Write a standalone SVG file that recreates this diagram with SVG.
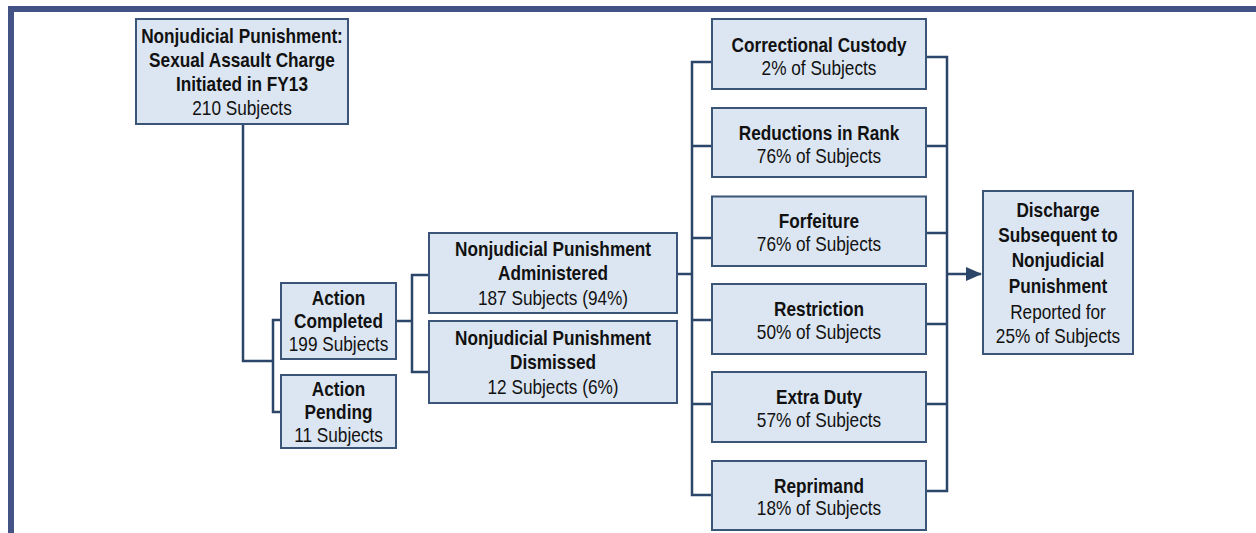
<svg xmlns="http://www.w3.org/2000/svg" width="1256" height="533" viewBox="0 0 1256 533">
<style>
.box{fill:#dce6f2;stroke:#3a5577;stroke-width:2}
.t{font-family:"Liberation Sans",Arial,sans-serif;font-size:21px;fill:#111;text-anchor:middle}
.b{font-weight:bold}
.c{fill:none;stroke:#2b4669;stroke-width:2.5}
</style>
<defs>
<marker id="ah2" markerWidth="16" markerHeight="14" refX="15" refY="7" orient="auto" markerUnits="userSpaceOnUse" viewBox="0 0 16 14">
<path d="M0,0 L16,7 L0,14 Z" fill="#2b4669"/>
</marker>
</defs>
<rect width="1256" height="533" fill="#fff"/>
<path d="M11,533 V9 H1256" fill="none" stroke="#435386" stroke-width="6"/>
<g id="connectors">
<path class="c" d="M243,124 V361 H273"/>
<path class="c" d="M281,320 H273 V412 H281"/>
<path class="c" d="M396,321 H412"/>
<path class="c" d="M429,275 H412 V372 H429"/>
<path class="c" d="M677,274 H692"/>
<path class="c" d="M712,62 H692 V495 H712"/>
<path class="c" d="M692,146 H712 M692,238 H712 M692,320 H712 M692,404 H712"/>
<path class="c" d="M926,57 H947 V491 H926"/>
<path class="c" d="M926,146 H947 M926,233 H947 M926,324 H947 M926,404 H947"/>
<path class="c" d="M947,274 H981" marker-end="url(#ah2)"/>
</g>
<g id="n_top">
<rect class="box" x="136" y="19" width="212" height="105"/>
<text class="t b" transform="translate(242 43) scale(0.82 1)">Nonjudicial Punishment:</text>
<text class="t b" transform="translate(242 67) scale(0.82 1)">Sexual Assault Charge</text>
<text class="t b" transform="translate(242 91) scale(0.82 1)">Initiated in FY13</text>
<text class="t" transform="translate(242 115) scale(0.82 1)">210 Subjects</text>
</g>
<g id="n_completed">
<rect class="box" x="281" y="283" width="115" height="76"/>
<text class="t b" transform="translate(338.5 305) scale(0.82 1)">Action</text>
<text class="t b" transform="translate(338.5 328) scale(0.82 1)">Completed</text>
<text class="t" transform="translate(338.5 351) scale(0.82 1)">199 Subjects</text>
</g>
<g id="n_pending">
<rect class="box" x="281" y="375" width="115" height="73"/>
<text class="t b" transform="translate(338.5 396) scale(0.82 1)">Action</text>
<text class="t b" transform="translate(338.5 419) scale(0.82 1)">Pending</text>
<text class="t" transform="translate(338.5 442) scale(0.82 1)">11 Subjects</text>
</g>
<g id="n_admin">
<rect class="box" x="429" y="233" width="248" height="80"/>
<text class="t b" transform="translate(553 256) scale(0.82 1)">Nonjudicial Punishment</text>
<text class="t b" transform="translate(553 280) scale(0.82 1)">Administered</text>
<text class="t" transform="translate(553 305) scale(0.82 1)">187 Subjects (94%)</text>
</g>
<g id="n_dismissed">
<rect class="box" x="429" y="321" width="248" height="82"/>
<text class="t b" transform="translate(553 345) scale(0.82 1)">Nonjudicial Punishment</text>
<text class="t b" transform="translate(553 369) scale(0.82 1)">Dismissed</text>
<text class="t" transform="translate(553 394) scale(0.82 1)">12 Subjects (6%)</text>
</g>
<g id="n_custody">
<rect class="box" x="712" y="19" width="214" height="70"/>
<text class="t b" transform="translate(819 52) scale(0.82 1)">Correctional Custody</text>
<text class="t" transform="translate(819 75) scale(0.82 1)">2% of Subjects</text>
</g>
<g id="n_rank">
<rect class="box" x="712" y="108" width="214" height="69"/>
<text class="t b" transform="translate(819 140) scale(0.82 1)">Reductions in Rank</text>
<text class="t" transform="translate(819 163) scale(0.82 1)">76% of Subjects</text>
</g>
<g id="n_forfeiture">
<rect class="box" x="712" y="196.5" width="214" height="69.5"/>
<text class="t b" transform="translate(819 228) scale(0.82 1)">Forfeiture</text>
<text class="t" transform="translate(819 251) scale(0.82 1)">76% of Subjects</text>
</g>
<g id="n_restriction">
<rect class="box" x="712" y="284" width="214" height="70"/>
<text class="t b" transform="translate(819 316) scale(0.82 1)">Restriction</text>
<text class="t" transform="translate(819 339) scale(0.82 1)">50% of Subjects</text>
</g>
<g id="n_extra">
<rect class="box" x="712" y="372" width="214" height="70"/>
<text class="t b" transform="translate(819 404) scale(0.82 1)">Extra Duty</text>
<text class="t" transform="translate(819 427) scale(0.82 1)">57% of Subjects</text>
</g>
<g id="n_reprimand">
<rect class="box" x="712" y="461" width="214" height="69"/>
<text class="t b" transform="translate(819 493) scale(0.82 1)">Reprimand</text>
<text class="t" transform="translate(819 515) scale(0.82 1)">18% of Subjects</text>
</g>
<g id="n_discharge">
<rect class="box" x="983" y="191" width="150" height="163"/>
<text class="t b" transform="translate(1058 217) scale(0.82 1)">Discharge</text>
<text class="t b" transform="translate(1058 242) scale(0.82 1)">Subsequent to</text>
<text class="t b" transform="translate(1058 267) scale(0.82 1)">Nonjudicial</text>
<text class="t b" transform="translate(1058 293) scale(0.82 1)">Punishment</text>
<text class="t" transform="translate(1058 319) scale(0.82 1)">Reported for</text>
<text class="t" transform="translate(1058 343) scale(0.82 1)">25% of Subjects</text>
</g>
</svg>
